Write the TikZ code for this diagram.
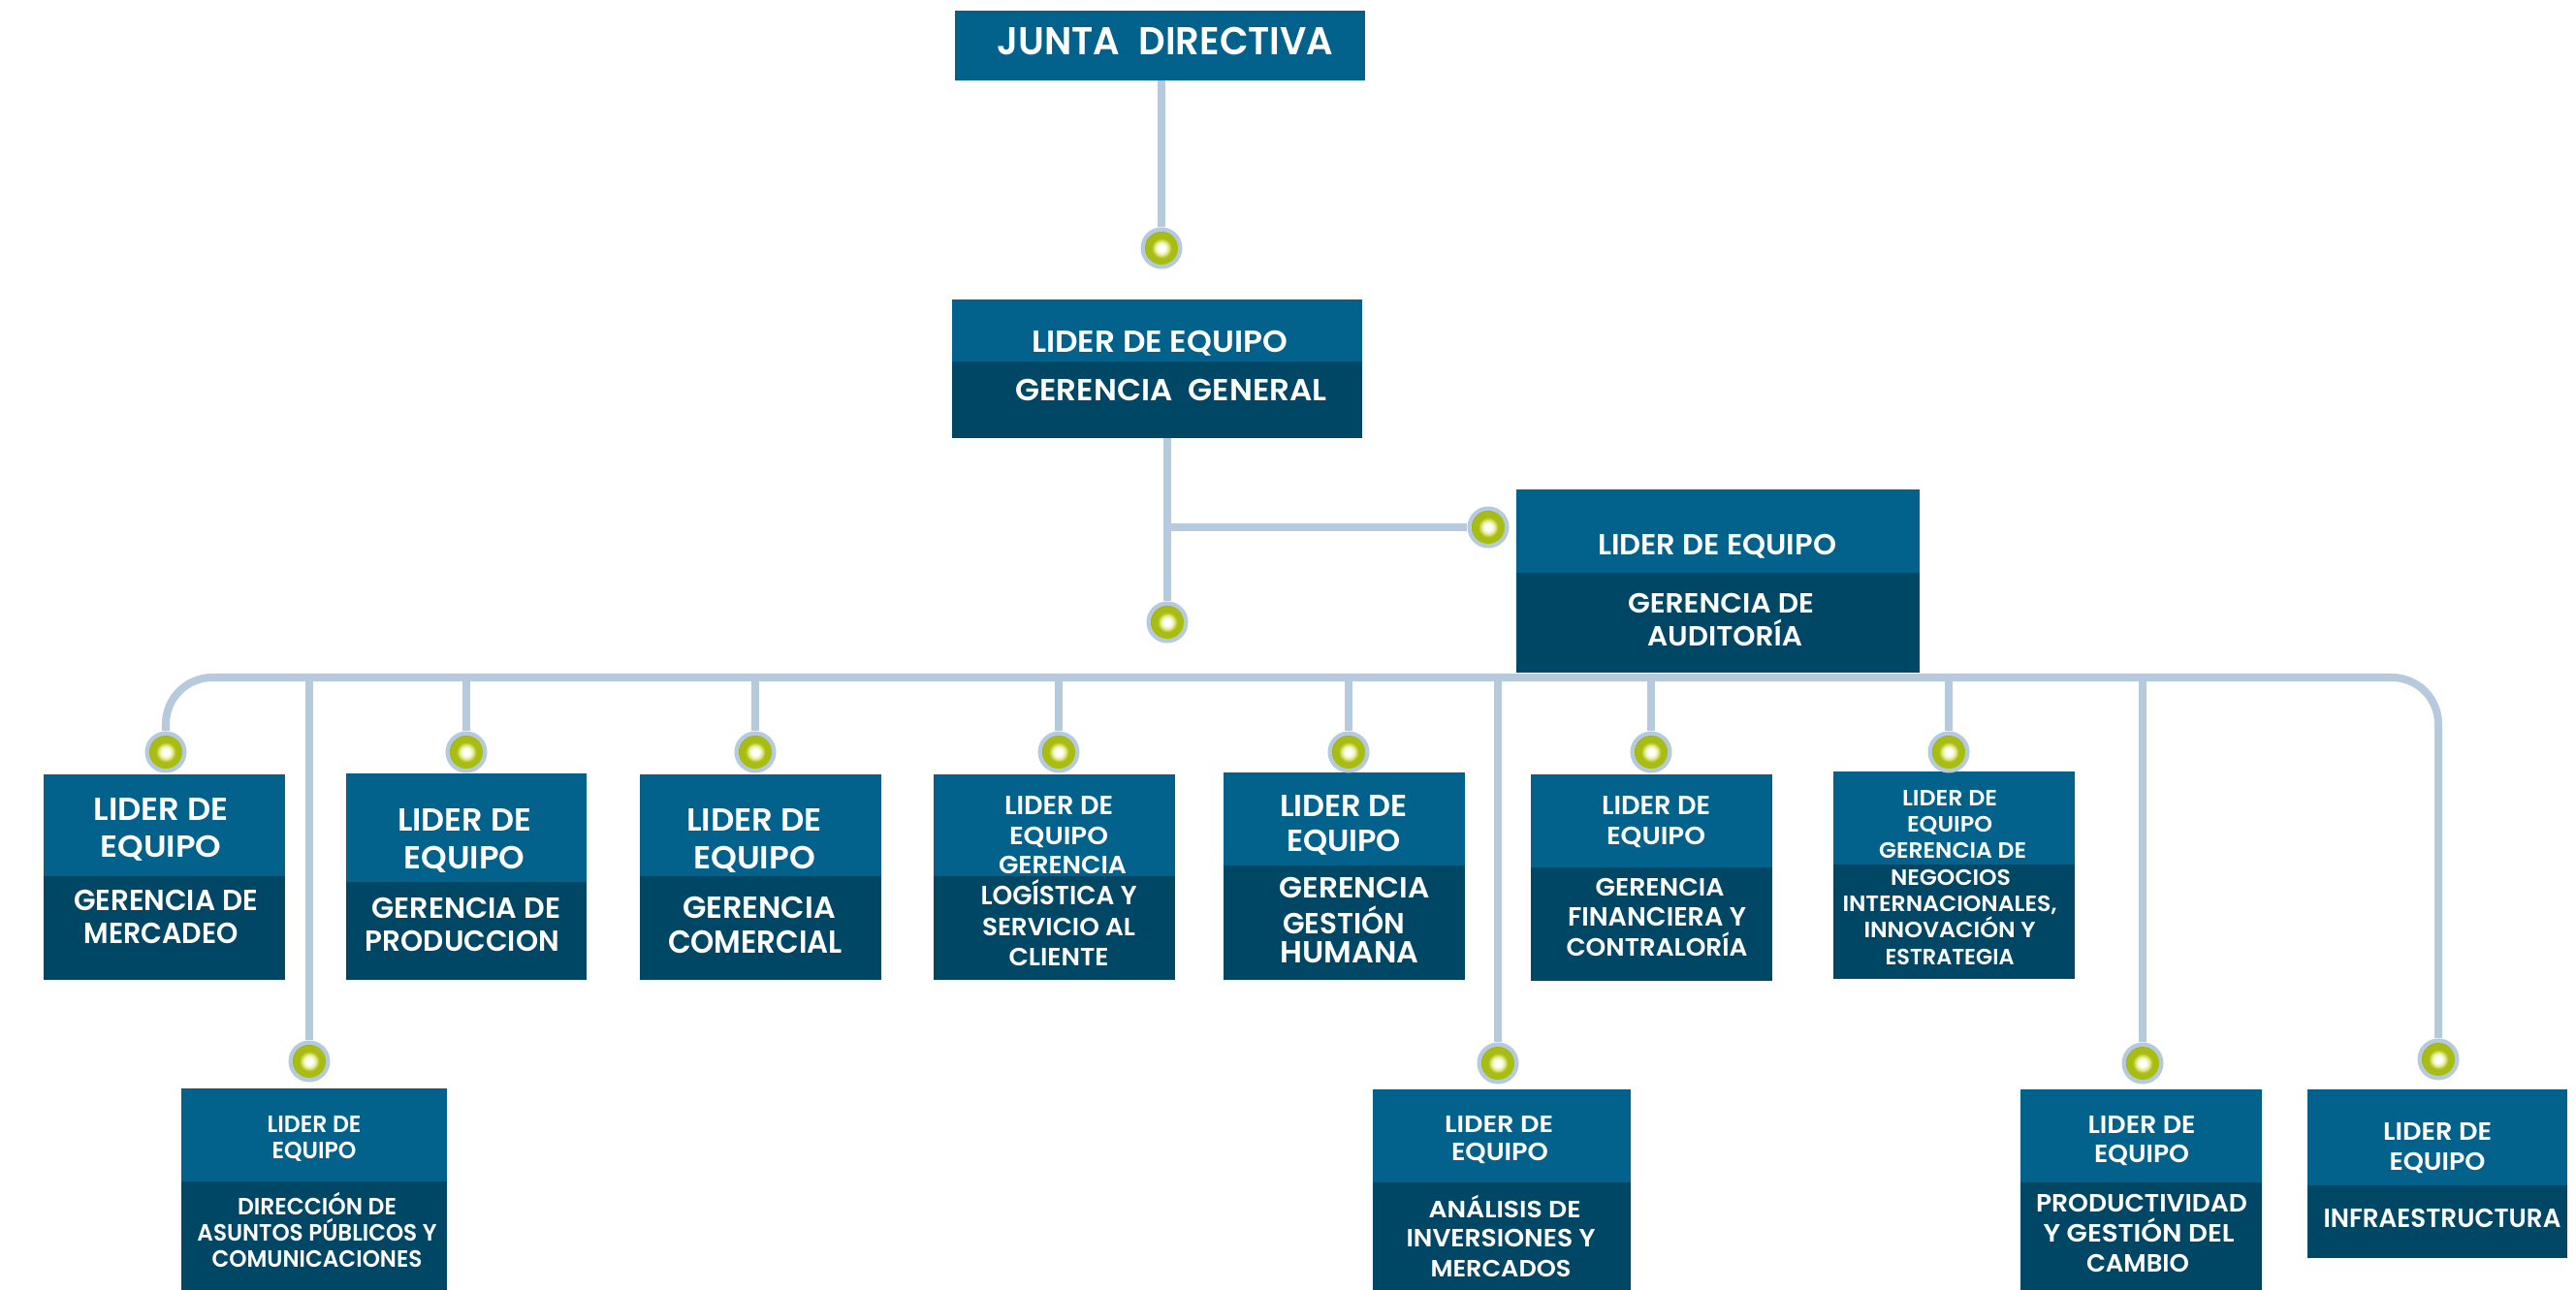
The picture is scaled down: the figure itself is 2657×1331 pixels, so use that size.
\documentclass[tikz,border=0pt]{standalone}
\usepackage{fontspec}
\setmainfont{Poppins}[UprightFont=* SemiBold, BoldFont=* Bold]
\usepackage{graphicx}
\usetikzlibrary{backgrounds}
\definecolor{topc}{HTML}{02628C}
\definecolor{botc}{HTML}{004766}
\definecolor{linec}{HTML}{B5CBDD}
\definecolor{ballhi}{HTML}{E4EC90}
\definecolor{ballmid}{HTML}{A9BC12}
\definecolor{balledge}{HTML}{7A8A08}
\pgfdeclareradialshading{greenball}{\pgfpointorigin}{color(0bp)=(white); color(4bp)=(white); color(8bp)=(ballhi); color(12bp)=(ballmid); color(19bp)=(ballmid); color(25bp)=(balledge); color(50bp)=(balledge)}
\newlength\px \setlength\px{0.01cm}
\newcommand\tline[6]{\node[lbl,font=\fontsize{#5}{#5}\selectfont] (#1) at (#2,#3) {\resizebox{#4\px}{\height}{#6}};}
\newcommand\twobox[6]{%
 \node[topbox, minimum width={(#4-#2)*0.01cm}, minimum height={(#6-#3)*0.01cm}] (#1T) at ({(#2+#4)/2},{(#3+#6)/2}) {};
 \node[botbox, minimum width={(#4-#2)*0.01cm}, minimum height={(#5-#6)*0.01cm}] (#1B) at ({(#2+#4)/2},{(#6+#5)/2}) {};}
\tikzset{
 lbl/.style={text=white, inner sep=0pt, outer sep=0pt, anchor=base},
 topbox/.style={fill=topc, draw=none, inner sep=0pt, outer sep=0pt, rectangle},
 botbox/.style={fill=botc, draw=none, inner sep=0pt, outer sep=0pt, rectangle},
 conn/.style={draw=linec, line width=0.08cm},
 gdot/.style={circle, fill=linec, draw=none, minimum size=0.43cm, inner sep=0pt,
   path picture={\shade[shading=greenball] (path picture bounding box.center) circle (0.17cm);}}
}
\begin{document}
\begin{tikzpicture}[x=0.01cm,y=-0.01cm]
\useasboundingbox (0,0) rectangle (2657,1331);
% boxes
\node[topbox, minimum width=4.23cm, minimum height=0.72cm] (jdT) at (1196.5,47) {};
\twobox{gg}{982}{309}{1405}{452}{373}
\twobox{au}{1564}{505}{1980}{694}{591}
\twobox{me}{45}{799}{294}{1011}{904}
\twobox{pr}{357}{798}{605}{1011}{910}
\twobox{co}{660}{799}{909}{1011}{904}
\twobox{lo}{963}{799}{1212}{1011}{904}
\twobox{gh}{1262}{797}{1511}{1011}{893}
\twobox{fi}{1579}{799}{1828}{1012}{895}
\twobox{ne}{1891}{796}{2140}{1010}{892}
\twobox{di}{187}{1123}{461}{1331}{1219}
\twobox{an}{1416}{1124}{1682}{1331}{1220}
\twobox{pc}{2084}{1124}{2333}{1331}{1220}
\twobox{in}{2380}{1124}{2648}{1298}{1223}
% dots
\node[gdot] (jdD) at (1198,256) {};
\node[gdot] (ggD) at (1204,642) {};
\node[gdot] (auD) at (1535,544) {};
\node[gdot] (mD) at (171,776) {};
\node[gdot] (pD) at (481,776) {};
\node[gdot] (cD) at (779,776) {};
\node[gdot] (lD) at (1092,776) {};
\node[gdot] (hD) at (1391,776) {};
\node[gdot] (fD) at (1703,776) {};
\node[gdot] (nD) at (2010,776) {};
\node[gdot] (dD) at (319,1095) {};
\node[gdot] (aD) at (1545,1097) {};
\node[gdot] (qD) at (2210,1097) {};
\node[gdot] (iD) at (2515,1093) {};
\coordinate (bus) at (0,699);
% connectors
\begin{scope}[on background layer]
\fill[white] (0,0) rectangle (2657,1331);
\draw[conn] (jdD |- jdT.south) -- (jdD);
\draw[conn] (ggD |- ggB.south) -- (ggD);
\draw[conn] (ggD |- auD) -- (auD);
\draw[conn, rounded corners=0.48cm] (mD) -- (mD |- bus) -- (iD |- bus) -- (iD);
\foreach \d in {pD,cD,lD,hD,fD,nD,dD,aD,qD}{\draw[conn] (\d |- bus) -- (\d);}
\end{scope}
% texts
\tline{jd1}{1202}{56.5}{347}{11.4}{JUNTA\enspace DIRECTIVA}
\tline{gg1}{1196}{364}{264}{8.94}{LIDER DE EQUIPO}
\tline{gg2}{1208}{414}{321}{8.94}{GERENCIA\enspace GENERAL}
\tline{au1}{1771}{572.5}{246}{8.53}{LIDER DE EQUIPO}
\tline{au2}{1775}{633}{192}{8.13}{GERENCIA DE}
\tline{au3}{1779}{667}{160}{8.13}{AUDITORÍA}
\tline{m1}{166}{846.5}{139}{9.35}{LIDER DE}
\tline{m2}{166}{885}{125}{8.94}{EQUIPO}
\tline{m3}{171}{939.5}{190}{8.53}{GERENCIA DE}
\tline{m4}{166}{973.5}{159}{8.53}{MERCADEO}
\tline{p1}{479}{857.5}{138}{9.35}{LIDER DE}
\tline{p2}{479}{896.5}{125}{9.35}{EQUIPO}
\tline{p3}{481}{947.5}{195}{8.53}{GERENCIA DE}
\tline{p4}{477}{981.5}{200}{8.53}{PRODUCCION}
\tline{c1}{778}{857.5}{140}{9.35}{LIDER DE}
\tline{c2}{778}{896.5}{126}{9.35}{EQUIPO}
\tline{c3}{783}{947}{158}{8.94}{GERENCIA}
\tline{c4}{779}{983.5}{180}{9.35}{COMERCIAL}
\tline{l1}{1092}{840.5}{112}{7.72}{LIDER DE}
\tline{l2}{1092}{871}{102}{7.32}{EQUIPO}
\tline{l3}{1096}{901}{132}{7.32}{GERENCIA}
\tline{l4}{1092}{933.5}{161}{7.72}{LOGÍSTICA Y}
\tline{l5}{1092}{965}{158}{7.32}{SERVICIO AL}
\tline{l6}{1092}{996}{103}{7.32}{CLIENTE}
\tline{h1}{1386}{843}{132}{8.94}{LIDER DE}
\tline{h2}{1386}{879}{118}{8.94}{EQUIPO}
\tline{h3}{1397}{926.5}{155}{8.53}{GERENCIA}
\tline{h4}{1386}{963.3}{126}{8.53}{GESTIÓN}
\tline{h5}{1392}{993.3}{143}{8.94}{HUMANA}
\tline{f1}{1708}{840.5}{112}{7.72}{LIDER DE}
\tline{f2}{1708}{871}{102}{7.32}{EQUIPO}
\tline{f3}{1712}{924.3}{133}{7.32}{GERENCIA}
\tline{f4}{1709}{955.3}{184}{7.72}{FINANCIERA Y}
\tline{f5}{1709}{986.7}{187}{7.32}{CONTRALORÍA}
\tline{n1}{2011}{831.7}{98}{6.5}{LIDER DE}
\tline{n2}{2011}{859}{88}{6.5}{EQUIPO}
\tline{n3}{2014}{885.7}{152}{6.5}{GERENCIA DE}
\tline{n4}{2012}{913.3}{124}{6.5}{NEGOCIOS}
\tline{n5}{2011}{940.7}{221}{6.5}{INTERNACIONALES,}
\tline{n6}{2011}{967.3}{177}{6.5}{INNOVACIÓN Y}
\tline{n7}{2011}{995}{133}{6.5}{ESTRATEGIA}
\tline{d1}{324}{1168.3}{97}{6.91}{LIDER DE}
\tline{d2}{324}{1195}{87}{6.91}{EQUIPO}
\tline{d3}{327}{1253.3}{164}{6.91}{DIRECCIÓN DE}
\tline{d4}{327}{1280}{247}{6.91}{ASUNTOS PÚBLICOS Y}
\tline{d5}{327}{1307.7}{217}{6.91}{COMUNICACIONES}
\tline{a1}{1546}{1168.3}{112}{6.91}{LIDER DE}
\tline{a2}{1547}{1197.7}{100}{7.32}{EQUIPO}
\tline{a3}{1552}{1256}{157}{6.91}{ANÁLISIS DE}
\tline{a4}{1548}{1286}{195}{7.32}{INVERSIONES Y}
\tline{a5}{1548}{1317.7}{145}{6.91}{MERCADOS}
\tline{q1}{2209}{1169.3}{111}{7.32}{LIDER DE}
\tline{q2}{2209}{1199.3}{98}{7.32}{EQUIPO}
\tline{q3}{2209}{1250}{218}{7.32}{PRODUCTIVIDAD}
\tline{q4}{2206}{1281.7}{197}{7.32}{Y GESTIÓN DEL}
\tline{q5}{2205}{1312.7}{106}{7.32}{CAMBIO}
\tline{i1}{2514}{1176.7}{112}{7.32}{LIDER DE}
\tline{i2}{2514}{1207.3}{99}{7.32}{EQUIPO}
\tline{i3}{2519}{1266}{245}{7.72}{INFRAESTRUCTURA}
\end{tikzpicture}
\end{document}
